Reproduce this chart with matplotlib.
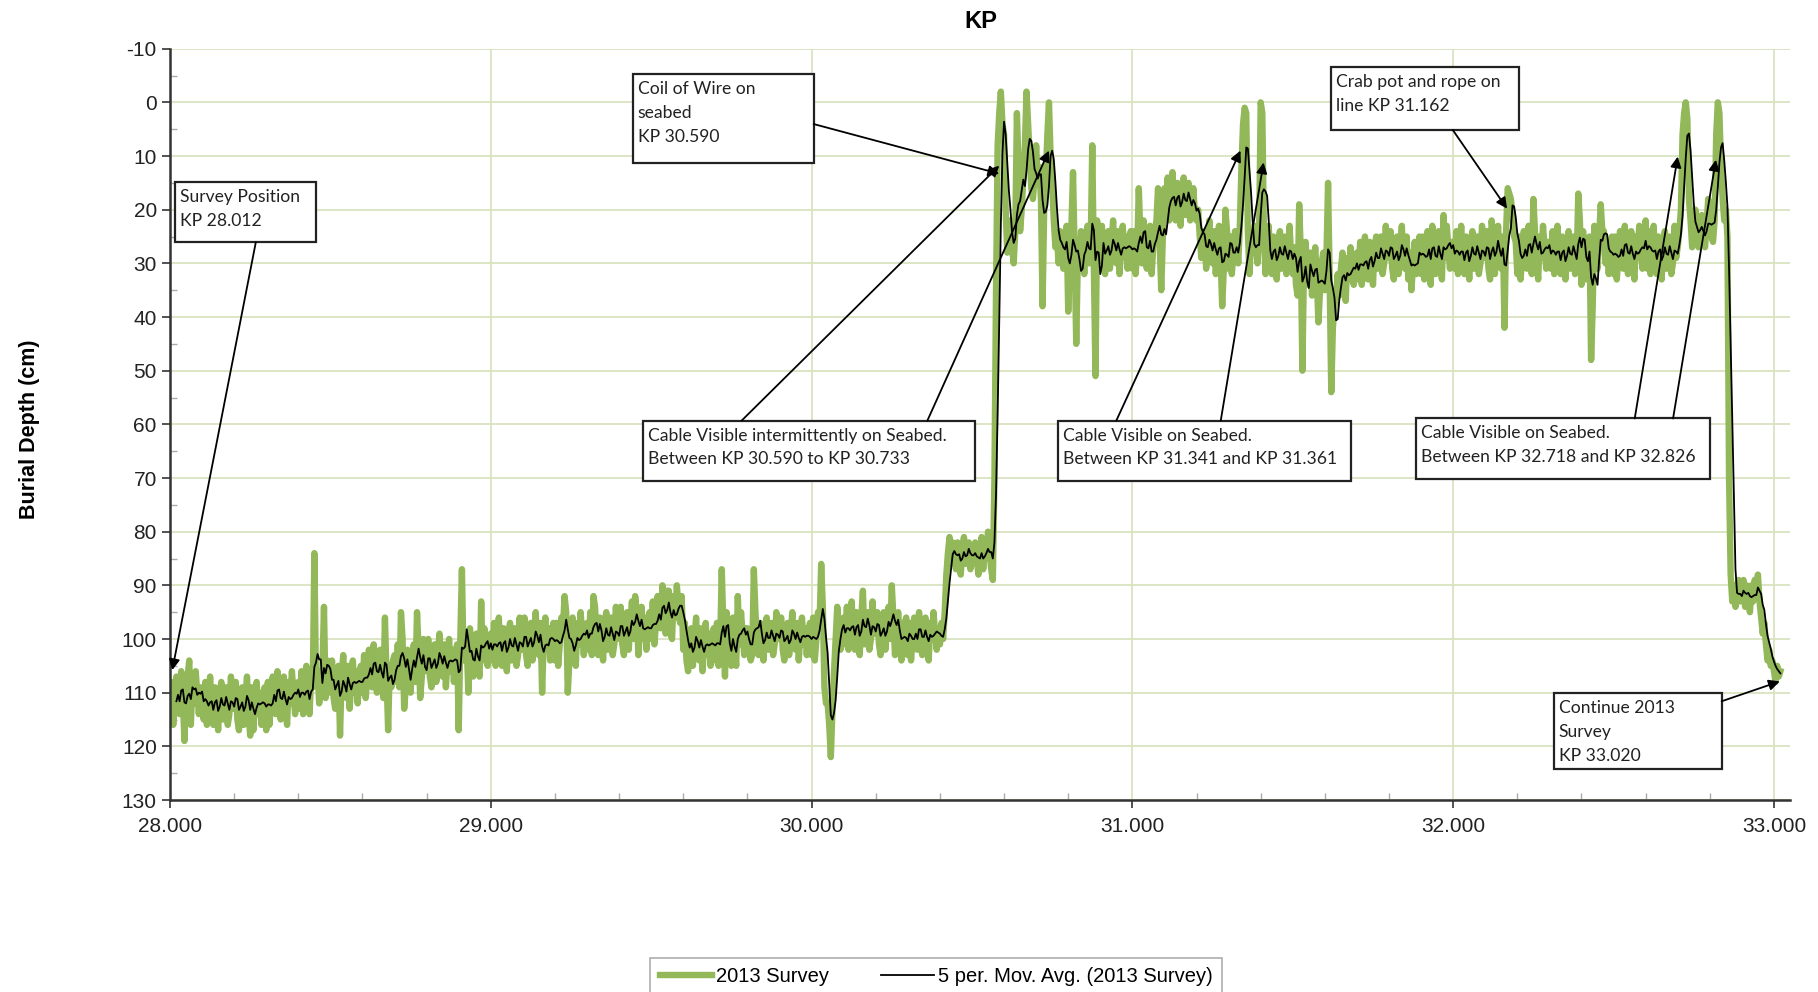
import numpy as np
import pandas as pd
import matplotlib
matplotlib.use('Agg')
import matplotlib.pyplot as plt
from matplotlib.patches import Rectangle
from matplotlib.transforms import offset_copy
from matplotlib.ticker import MultipleLocator, FormatStrFormatter

depth = [
    115, 108, 116, 112, 107, 109, 114, 106, 111, 119, 110, 107, 104, 116, 108, 112, 106, 110, 114, 109,  # 28.0
    110, 115, 108, 116, 113, 107, 114, 116, 109, 111, 117, 110, 108, 115, 112, 109, 116, 114, 107, 113,  # 28.1
    113, 108, 115, 117, 110, 109, 116, 111, 107, 114, 118, 109, 117, 112, 108, 114, 110, 116, 111, 109,  # 28.2
    117, 108, 116, 112, 107, 109, 114, 106, 111, 115, 110, 107, 113, 116, 108, 112, 106, 110, 114, 109,  # 28.3
    108, 113, 106, 114, 111, 105, 112, 114, 107, 109, 84, 108, 106, 112, 109, 106, 94, 111, 104, 110,    # 28.4
    109, 104, 111, 113, 106, 105, 118, 107, 103, 110, 111, 105, 113, 108, 104, 110, 106, 112, 107, 105,  # 28.5
    110, 103, 111, 107, 102, 104, 109, 101, 106, 110, 105, 102, 108, 111, 96, 107, 117, 105, 109, 104,   # 28.6
    103, 108, 101, 109, 95, 100, 113, 109, 102, 104, 110, 103, 101, 108, 95, 102, 111, 107, 100, 106,    # 28.7
    105, 100, 107, 109, 102, 101, 108, 103, 99, 106, 107, 101, 109, 104, 100, 106, 102, 108, 103, 101,   # 28.8
    117, 100, 87, 104, 99, 101, 110, 98, 103, 107, 102, 99, 105, 107, 93, 104, 98, 102, 105, 100,        # 28.9
    99, 104, 97, 105, 102, 96, 103, 105, 98, 100, 106, 99, 97, 104, 101, 98, 105, 103, 96, 102,          # 29.0
    101, 96, 103, 105, 98, 97, 104, 99, 95, 102, 103, 97, 110, 100, 96, 102, 98, 104, 99, 97,            # 29.1
    104, 97, 105, 101, 96, 98, 92, 95, 110, 104, 99, 96, 102, 105, 97, 101, 95, 99, 103, 98,             # 29.2
    97, 102, 95, 103, 92, 94, 101, 103, 96, 98, 104, 97, 95, 102, 99, 96, 103, 101, 94, 100,             # 29.3
    99, 94, 101, 103, 96, 95, 102, 97, 93, 100, 92, 95, 103, 98, 94, 100, 96, 102, 97, 95,               # 29.4
    100, 93, 101, 97, 92, 94, 98, 90, 95, 99, 91, 91, 99, 100, 92, 96, 90, 94, 97, 92,                   # 29.5
    102, 97, 104, 106, 99, 98, 105, 100, 96, 103, 104, 98, 106, 101, 97, 103, 99, 105, 100, 98,          # 29.6
    104, 97, 105, 101, 87, 98, 107, 95, 100, 104, 105, 96, 102, 105, 92, 101, 95, 99, 103, 98,           # 29.7
    98, 102, 104, 103, 87, 95, 101, 103, 97, 99, 104, 98, 96, 102, 99, 97, 103, 101, 95, 100,            # 29.8
    100, 96, 102, 104, 98, 97, 103, 99, 95, 101, 102, 97, 104, 99, 96, 101, 98, 103, 99, 97,             # 29.9
    103, 96, 104, 100, 95, 97, 86, 94, 109, 112, 112, 116, 122, 113, 106, 100, 94, 98, 102, 97,          # 30.0
    96, 101, 94, 102, 99, 93, 100, 102, 95, 97, 103, 96, 91, 101, 98, 95, 102, 100, 93, 99,              # 30.1
    99, 95, 101, 103, 96, 95, 102, 97, 94, 100, 90, 96, 103, 98, 95, 100, 104, 102, 97, 96,              # 30.2
    103, 97, 104, 100, 96, 98, 102, 95, 100, 103, 98, 96, 101, 104, 97, 100, 95, 99, 102, 98,            # 30.3
    101, 97, 100, 95, 88, 84, 81, 86, 82, 85, 87, 82, 85, 88, 83, 81, 86, 84, 82, 87,                    # 30.4
    83, 86, 82, 85, 88, 84, 81, 87, 83, 85, 80, 84, 87, 89, 70, 35, 8, 2, -2, 4,                         # 30.5
    6, 20, 28, 24, 22, 27, 30, 24, 2, 12, 24, 20, 14, 8, -2, 4, 10, 16, 18, 14,                          # 30.6
    8, 15, 12, 18, 38, 20, 14, 6, 0, 10, 15, 22, 27, 25, 30, 24, 25, 31, 27, 23,                         # 30.7
    39, 30, 23, 13, 28, 45, 29, 31, 24, 26, 32, 25, 23, 30, 27, 8, 31, 51, 22, 28,                       # 30.8
    28, 23, 30, 32, 25, 24, 31, 26, 22, 29, 30, 24, 32, 27, 23, 29, 25, 31, 26, 24,                      # 30.9
    31, 24, 32, 28, 16, 25, 30, 22, 27, 31, 26, 23, 32, 27, 24, 22, 16, 26, 35, 25,                      # 31.0
    16, 21, 14, 22, 19, 13, 20, 22, 15, 17, 23, 16, 14, 21, 18, 15, 22, 20, 16, 21,                      # 31.1
    22, 20, 25, 29, 25, 24, 31, 26, 22, 29, 30, 24, 32, 27, 23, 29, 38, 31, 20, 24,                      # 31.2
    31, 25, 32, 28, 24, 26, 30, 23, 12, 4, 1, 2, 24, 32, 25, 28, 23, 27, 30, 25,                         # 31.3
    0, 2, 24, 32, 29, 23, 30, 32, 25, 27, 33, 26, 24, 31, 28, 25, 32, 30, 23, 29,                        # 31.4
    32, 27, 34, 36, 19, 28, 50, 30, 26, 33, 34, 28, 36, 31, 27, 33, 41, 35, 30, 28,                      # 31.5
    35, 29, 15, 33, 54, 42, 38, 36, 32, 36, 31, 28, 34, 37, 29, 33, 27, 31, 34, 30,                      # 31.6
    28, 33, 26, 34, 31, 25, 32, 33, 26, 28, 34, 27, 25, 31, 28, 25, 32, 30, 23, 29,                      # 31.7
    29, 24, 31, 33, 26, 25, 32, 27, 23, 30, 31, 25, 33, 28, 35, 30, 26, 32, 27, 25,                      # 31.8
    32, 25, 33, 29, 24, 26, 34, 23, 28, 32, 27, 24, 30, 33, 21, 29, 23, 27, 31, 26,                      # 31.9
    26, 31, 24, 32, 29, 23, 31, 32, 25, 27, 33, 26, 24, 31, 28, 25, 32, 30, 23, 29,                      # 32.0
    29, 24, 31, 33, 22, 25, 32, 27, 23, 30, 31, 25, 42, 24, 16, 17, 18, 21, 25, 26,                      # 32.1
    32, 25, 33, 29, 24, 26, 31, 23, 28, 32, 18, 24, 30, 33, 25, 29, 23, 27, 31, 26,                      # 32.2
    26, 31, 24, 32, 29, 23, 31, 32, 25, 27, 33, 26, 24, 31, 28, 25, 32, 30, 17, 22,                      # 32.3
    34, 24, 31, 33, 26, 25, 48, 38, 23, 30, 31, 25, 19, 24, 24, 30, 26, 32, 27, 25,                      # 32.4
    32, 25, 33, 29, 24, 26, 31, 23, 28, 32, 27, 24, 30, 33, 25, 29, 23, 27, 31, 26,                      # 32.5
    22, 31, 24, 32, 29, 23, 30, 32, 25, 27, 33, 26, 24, 31, 28, 25, 32, 30, 23, 29,                      # 32.6
    27, 24, 20, 6, 2, 0, 3, 18, 22, 27, 24, 20, 23, 27, 25, 21, 24, 27, 23, 18,                          # 32.7
    21, 25, 26, 22, 6, 0, 2, 12, 18, 22, 20, 25, 70, 88, 93, 90, 94, 92, 89, 93,                         # 32.8
    92, 89, 94, 90, 92, 95, 90, 93, 89, 92, 88, 93, 96, 99, 97, 101, 104, 102, 105, 104,                 # 32.9
    106, 108, 105, 107, 106,                                                                             # 33.0
]
kp_start = 28.0
kp_step = 0.005

# text boxes: (text, box (x0, y0, x1, y1) in KP / cm, arrows [(from, to)])
notes = [
    ("Survey Position\nKP 28.012", (28.0145, 14.84, 28.4555, 26.07),
     [((28.2675, 26.07), (28.007, 105.8))]),
    ("Coil of Wire on\nseabed\nKP 30.590", (29.4425, -5.25, 30.0065, 11.38),
     [((30.0065, 4.04), (30.585, 13.3))]),
    ("Cable Visible intermittently on Seabed.\nBetween KP 30.590 to KP 30.733",
     (29.475, 59.3, 30.509, 70.56),
     [((29.782, 59.3), (30.585, 11.8)), ((30.361, 59.3), (30.74, 9.0))]),
    ("Cable Visible on Seabed.\nBetween KP 31.341 and KP 31.361",
     (30.769, 59.3, 31.680, 70.56),
     [((30.950, 59.3), (31.337, 9.0)), ((31.2755, 59.3), (31.409, 11.2))]),
    ("Crab pot and rope on\nline KP 31.162", (31.619, -6.54, 32.205, 5.12),
     [((31.9985, 5.12), (32.168, 19.8))]),
    ("Cable Visible on Seabed.\nBetween KP 32.718 and KP 32.826",
     (31.883, 58.9, 32.801, 70.1),
     [((32.566, 58.9), (32.700, 10.1)), ((32.6855, 58.9), (32.819, 10.7))]),
    ("Continue 2013\nSurvey\nKP 33.020", (32.313, 110.1, 32.837, 124.3),
     [((32.837, 111.6), (33.018, 107.9))]),
]

plt.rcParams['axes.unicode_minus'] = False
chart_font = ['Liberation Sans', 'DejaVu Sans']
note_font = ['Lato', 'DejaVu Sans']
plt.rcParams['font.family'] = chart_font

survey = pd.Series(depth, dtype=float)
kp = kp_start + kp_step * np.arange(len(survey))
mov_avg = survey.rolling(5).mean()

fig = plt.figure(figsize=(18.18, 9.92), dpi=100)
ax = fig.add_axes([170 / 1818, 1 - 800 / 992, 1620 / 1818, 751.3 / 992])

ax.plot(kp, survey, color='#92b85a', lw=4.6, label='2013 Survey', zorder=2)
ax.plot(kp, mov_avg, color='black', lw=1.3, label='5 per. Mov. Avg. (2013 Survey)', zorder=3)

ax.set_xlim(28, 33.05)
ax.set_ylim(130, -10)
ax.xaxis.set_major_locator(MultipleLocator(1))
ax.xaxis.set_minor_locator(MultipleLocator(0.2))
ax.xaxis.set_major_formatter(FormatStrFormatter('%.3f'))
ax.yaxis.set_major_locator(MultipleLocator(10))
ax.yaxis.set_minor_locator(MultipleLocator(5))
ax.grid(True, which='major', color='#d9e3bf', lw=1.3, zorder=0)
ax.set_axisbelow(True)

for s in ['top', 'right']:
    ax.spines[s].set_visible(False)
for s in ['left', 'bottom']:
    ax.spines[s].set_color('#333333')
    ax.spines[s].set_linewidth(1.8)

ax.tick_params(which='major', direction='out', length=6, width=1.2, colors='#333333',
               labelsize=15, labelcolor='#222222')
ax.tick_params(which='minor', direction='in', length=5, width=1, color='#aaaaaa')
ax.tick_params(axis='x', which='major', pad=6)

for txt, (x0, y0, x1, y1), arrows in notes:
    ax.add_patch(Rectangle((x0, y0), x1 - x0, y1 - y0, facecolor='white',
                           edgecolor='#222222', lw=1.6, zorder=5))
    ax.text(x0, y0, txt, transform=offset_copy(ax.transData, fig=fig, x=5, y=-7, units='dots'),
            ha='left', va='top', fontsize=12.6, family=note_font, color='#222222',
            linespacing=1.6, zorder=6)
    for start, end in arrows:
        ax.annotate('', xy=end, xytext=start,
                    arrowprops=dict(arrowstyle='-|>', color='black', lw=1.3,
                                    mutation_scale=16, shrinkA=0, shrinkB=0),
                    zorder=6)

fig.text(981 / 1818, 1 - 22 / 992, 'KP', ha='center', va='center',
         fontsize=17, fontweight='bold')
fig.text(30 / 1818, 1 - 429 / 992, 'Burial Depth (cm)', ha='center', va='center',
         rotation=90, fontsize=15.5, fontweight='bold')

leg = fig.legend(loc='upper center', bbox_to_anchor=(936 / 1818, 1 - 958 / 992), ncol=2,
                 fontsize=14.5, frameon=True, fancybox=False, edgecolor='#999999',
                 handlelength=2.6, handletextpad=0.2, columnspacing=2.6, borderpad=0.45,
                 borderaxespad=0)
leg.get_frame().set_linewidth(1.2)

fig.savefig('out.png', dpi=100)
